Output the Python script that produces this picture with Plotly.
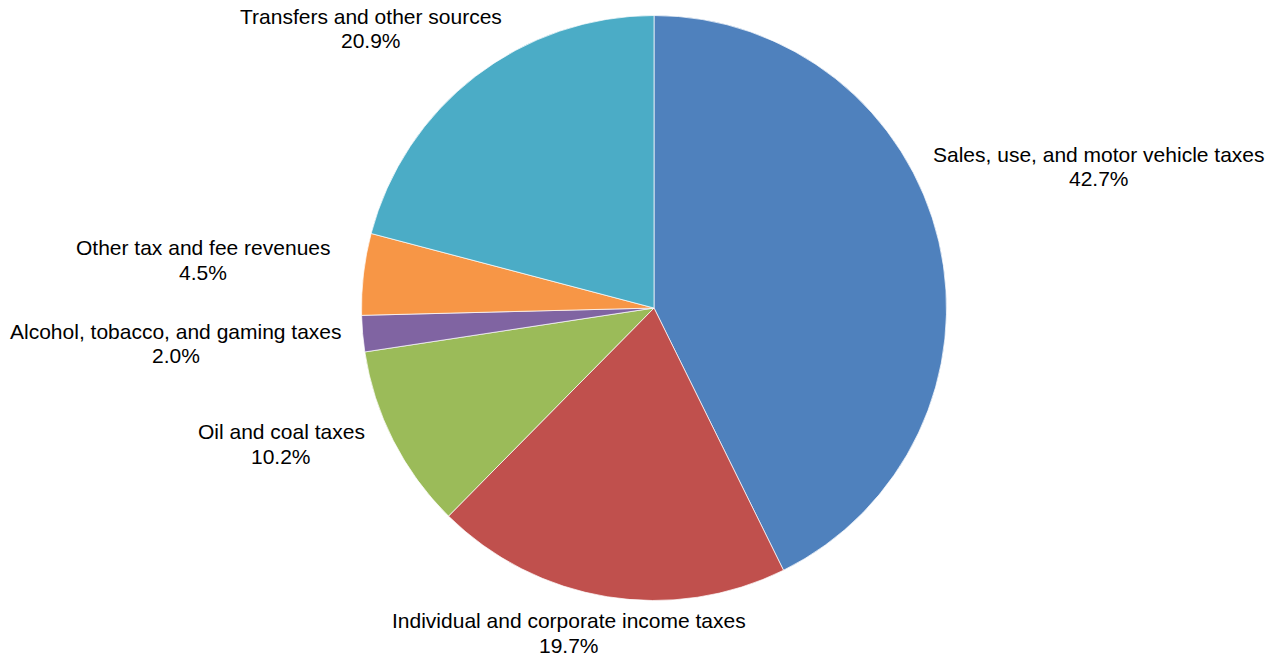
import math
import plotly.graph_objects as go

categories = [
    "Sales, use, and motor vehicle taxes",
    "Individual and corporate income taxes",
    "Oil and coal taxes",
    "Alcohol, tobacco, and gaming taxes",
    "Other tax and fee revenues",
    "Transfers and other sources",
]
shares = [42.7, 19.7, 10.2, 2.0, 4.5, 20.9]
colors = ["#4F81BD", "#C0504D", "#9BBB59", "#8064A2", "#F79646", "#4BACC6"]

# label placement relative to the slice's outer mid-point (px: right, down)
label_offsets = [(160, -75), (-38, 36), (-112, 3), (-187, 10), (-160, -14), (-104, -48)]

W, H = 1276, 653
# page body offsets the figure by 8px; compensate so the pie sits where the reference has it
CX, CY, R = 646.0, 300.0, 292.5
FONT = "Liberation Sans, Arial, sans-serif"
FS = 21
LINE_GAP = 24.5

dom_x = [(CX - R) / W, (CX + R) / W]
dom_y = [(H - CY - R) / H, (H - CY + R) / H]

fig = go.Figure(
    go.Pie(
        labels=categories,
        values=shares,
        sort=False,
        direction="clockwise",
        rotation=0,
        marker=dict(colors=colors, line=dict(color="rgba(255,255,255,0.7)", width=1)),
        textinfo="none",
        hoverinfo="label+percent",
        showlegend=False,
        domain=dict(x=dom_x, y=dom_y),
    )
)

total = sum(shares)
cum = 0.0
annotations = []
for name, val, (dx, dy) in zip(categories, shares, label_offsets):
    mid = (cum + val / 2) / total * 2 * math.pi
    cum += val
    ex = CX + R * math.sin(mid)
    ey = CY - R * math.cos(mid)
    lx, ly = ex + dx, ey + dy
    for txt, off in ((name, -LINE_GAP / 2), (f"{val:.1f}%", LINE_GAP / 2)):
        annotations.append(
            dict(
                x=lx / W,
                y=1 - (ly + off) / H,
                xref="paper",
                yref="paper",
                text=txt,
                showarrow=False,
                xanchor="center",
                yanchor="middle",
                font=dict(family=FONT, size=FS, color="#000000"),
            )
        )

fig.update_layout(
    width=W,
    height=H,
    margin=dict(l=0, r=0, t=0, b=0),
    paper_bgcolor="white",
    plot_bgcolor="white",
    font=dict(family=FONT, size=FS, color="#000000"),
    annotations=annotations,
)

fig.write_html("out.html")
